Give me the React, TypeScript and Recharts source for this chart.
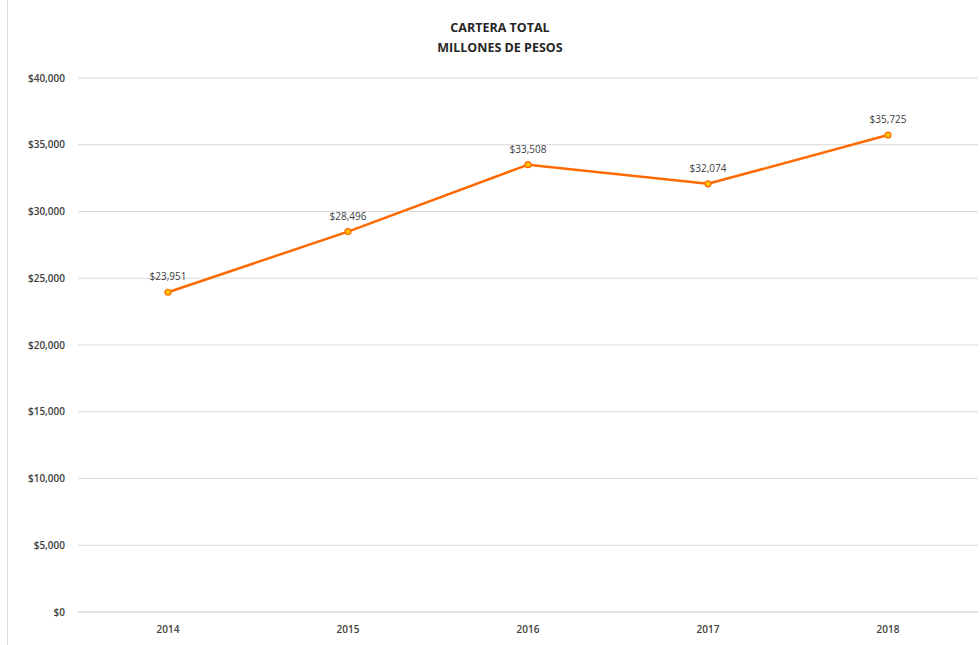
import React from "react";
import { LineChart, Line, XAxis, YAxis, CartesianGrid, LabelList } from "recharts";

const years = ["2014", "2015", "2016", "2017", "2018"];
const cartera = [23951, 28496, 33508, 32074, 35725];
const yTicks = [0, 5000, 10000, 15000, 20000, 25000, 30000, 35000, 40000];
const titleLines = ["CARTERA TOTAL", "MILLONES DE PESOS"];

const data = years.map((y, i) => ({ year: y, value: cartera[i] }));

const fmt = (v: number) => "$" + v.toLocaleString("en-US");

const FONT = "'Open Sans', 'Liberation Sans', sans-serif";

export default function App() {
  return (
    <div style={{ position: "absolute", left: 0, top: 0, width: 980, height: 645, background: "#fff", fontFamily: FONT }}>
      <div style={{ position: "absolute", left: 7, top: 0, width: 0, height: 645, borderLeft: "1px solid #d9d9d9" }} />
      <div style={{ position: "absolute", left: 0, top: 18, width: 1000, textAlign: "center", fontSize: 12.5, fontWeight: 700, color: "#262626", lineHeight: "20px" }}>
        {titleLines.map((t) => (
          <div key={t}>{t}</div>
        ))}
      </div>
      <div style={{ position: "absolute", left: 0, top: 0 }}>
        <LineChart width={980} height={645} data={data} margin={{ top: 78, right: 2, bottom: 3, left: 8 }}>
          <CartesianGrid vertical={false} stroke="#d9d9d9" strokeWidth={1} />
          <XAxis
            dataKey="year"
            height={30}
            padding={{ left: 90, right: 90 }}
            tickLine={false}
            axisLine={{ stroke: "#d9d9d9" }}
            tickSize={0}
            tickMargin={14}
            tick={{ fontSize: 10, fill: "#404040", fontFamily: FONT, fontWeight: 600 }}
          />
          <YAxis
            width={70}
            domain={[0, 40000]}
            ticks={yTicks}
            tickFormatter={fmt}
            axisLine={false}
            tickLine={false}
            tickSize={0}
            tickMargin={13}
            tick={{ fontSize: 10, fill: "#404040", fontFamily: FONT, fontWeight: 600 }}
          />
          <Line
            type="linear"
            dataKey="value"
            stroke="#ff6a00"
            strokeWidth={2.5}
            dot={{ r: 3, fill: "#ffc000", stroke: "#ff6a00", strokeWidth: 1.2 }}
            isAnimationActive={false}
          >
            <LabelList dataKey="value" position="top" offset={12} formatter={fmt} style={{ fontSize: 10, fill: "#404040", fontFamily: FONT }} />
          </Line>
        </LineChart>
      </div>
    </div>
  );
}
